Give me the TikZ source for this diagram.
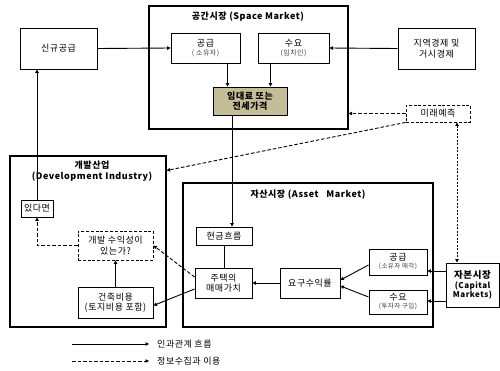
\documentclass[tikz,border=0pt]{standalone}
\usepackage{fontspec}
\setmainfont{Noto Sans CJK KR}[LetterSpace=6]
\usetikzlibrary{arrows.meta}
\definecolor{tanfill}{HTML}{C4BD97}
\begin{document}
\begin{tikzpicture}[x=1pt,y=-1pt,
  bx/.style={draw, line width=0.9pt, align=center, inner sep=1pt, font=\fontsize{9}{10.5}\selectfont},
  bigbx/.style={draw, line width=1.1pt, inner sep=0pt},
  dbx/.style={bx, dash pattern=on 3pt off 1.8pt},
  ttl/.style={align=center, inner sep=0pt, font=\bfseries\fontsize{9}{10.5}\selectfont},
  arr/.style={line width=0.9pt, -{Triangle[length=3.5pt,width=3.5pt]}},
  darr/.style={arr, dash pattern=on 3.5pt off 2pt},
  plain/.style={line width=0.9pt},
  lgd/.style={anchor=west, inner sep=0pt, font=\fontsize{9}{10.5}\selectfont}]
\fill[white] (0,0) rectangle (500,370);
\useasboundingbox (0,0) rectangle (500,370);

% space market
\node[bigbx, minimum width=199pt, minimum height=123pt] (space) at (248.5,67.5) {};
\node[ttl] (spacet) at (248,17) {공간시장 (Space Market)};
\node[bx, minimum width=77pt, minimum height=41pt] (sinkyu) at (58.5,48.5) {신규공급};
\node[bx, minimum width=69pt, minimum height=30pt] (gong1) at (205.5,48) {공급\\[-2pt]{\fontsize{7}{8}\selectfont\color{black!75}( 소유자)}};
\node[bx, minimum width=71pt, minimum height=30pt] (suyo1) at (293.5,48) {수요\\[-2pt]{\fontsize{7}{8}\selectfont\color{black!75}(임차인)}};
\node[bx, fill=tanfill, font=\bfseries\fontsize{9}{10.5}\selectfont, minimum width=74pt, minimum height=28pt] (imdae) at (250,101) {임대료 또는\\전세가격};
\node[bx, minimum width=77pt, minimum height=41pt] (jiyeok) at (436.5,48.5) {지역경제 및\\거시경제};
\node[dbx, minimum width=64pt, minimum height=17pt] (mirae) at (438,113.5) {미래예측};

% development industry
\node[bigbx, minimum width=156pt, minimum height=171pt] (dev) at (88,241.5) {};
\node[ttl] (devt) at (92,171) {개발산업\\(Development Industry)};
\node[bx, minimum width=32pt, minimum height=17pt] (itda) at (37,208.5) {있다면};
\node[dbx, minimum width=75pt, minimum height=29pt] (gaebal) at (115.5,245.5) {개발 수익성이\\있는가?};
\node[bx, minimum width=75pt, minimum height=31pt] (geon) at (115.5,302.5) {건축비용\\(토지비용 포함)};

% asset market
\node[bigbx, minimum width=250pt, minimum height=144pt] (asset) at (308,255) {};
\node[ttl] (assett) at (308,195) {자산시장 (Asset~~~Market)};
\node[bx, minimum width=56pt, minimum height=18pt] (hyeon) at (224,236) {현금흐름};
\node[bx, minimum width=57pt, minimum height=30pt] (jutaek) at (223.5,283) {주택의\\매매가치};
\node[bx, minimum width=60pt, minimum height=30pt] (yogu) at (310,283) {요구수익률};
\node[bx, minimum width=58pt, minimum height=26pt] (gong2) at (398,262) {공급\\[-2.5pt]{\fontsize{6.5}{7.5}\selectfont\color{black!75}(소유자 매각)}};
\node[bx, minimum width=58pt, minimum height=24pt] (suyo2) at (398,302) {수요\\[-2.5pt]{\fontsize{6.5}{7.5}\selectfont\color{black!75}(투자자 구입)}};
\node[bx, minimum width=53pt, minimum height=44pt, font=\bfseries\fontsize{8}{9.5}\selectfont] (jabon) at (472.5,285) {{\fontsize{9.5}{10}\selectfont 자본시장}\\(Capital\\Markets)};

% connectors: space market
\draw[arr] (sinkyu.east) -- (gong1.west);
\draw[arr] (jiyeok.west) -- (suyo1.east);
\draw[arr] ([xshift=22pt]gong1.south) -- ([xshift=22pt]gong1.south |- imdae.north);
\draw[arr] ([xshift=-23pt]suyo1.south) -- ([xshift=-23pt]suyo1.south |- imdae.north);
\draw[arr] ([xshift=-18pt]imdae.south) -- ([xshift=-18pt]imdae.south |- hyeon.north);
\draw[darr] (mirae.west) -- (mirae.west -| space.east);
\coordinate (devin) at ([yshift=-15pt]dev.north east);
\draw[darr] (mirae.south west) -- (devin);
\draw[line width=0.9pt, dash pattern=on 2pt off 1.5pt, {Triangle[length=3.5pt,width=3.5pt]}-{Triangle[length=3.5pt,width=3.5pt]}] ([xshift=19pt]mirae.south) -- ([xshift=19pt]mirae.south |- jabon.north);

% connectors: development
\draw[arr] (itda.north) -- (itda.north |- sinkyu.south);
\draw[darr] (gaebal.west) -| (itda.south);
\draw[arr] (geon.north) -- (gaebal.south);
\draw[darr] ([yshift=6pt]jutaek.west) -- (gaebal.east);
\draw[arr] ([yshift=-6pt]jutaek.west) -- ([yshift=-3pt]geon.east);

% connectors: asset
\draw[plain] (hyeon.south) -- (hyeon.south |- jutaek.north);
\draw[arr] (yogu.west) -- (jutaek.east);
\draw[arr] ([yshift=-3pt]gong2.west) -- ([yshift=3pt]yogu.east);
\draw[arr] ([yshift=5pt]suyo2.west) -- ([yshift=-3pt]yogu.east);
\draw[arr] ([yshift=-9pt]gong2.east -| jabon.west) -- ([yshift=-9pt]gong2.east);
\draw[arr] ([yshift=1pt]suyo2.east -| jabon.west) -- ([yshift=1pt]suyo2.east);

% legend
\coordinate (l1a) at (72,344);
\coordinate (l1b) at (149,344);
\coordinate (l2a) at (72,361);
\coordinate (l2b) at (149,361);
\draw[arr] (l1a) -- (l1b);
\draw[darr] (l2a) -- (l2b);
\node[lgd] (lt1) at (157,344) {인과관계 흐름};
\node[lgd] (lt2) at (157,361) {정보수집과 이용};
\end{tikzpicture}
\end{document}
